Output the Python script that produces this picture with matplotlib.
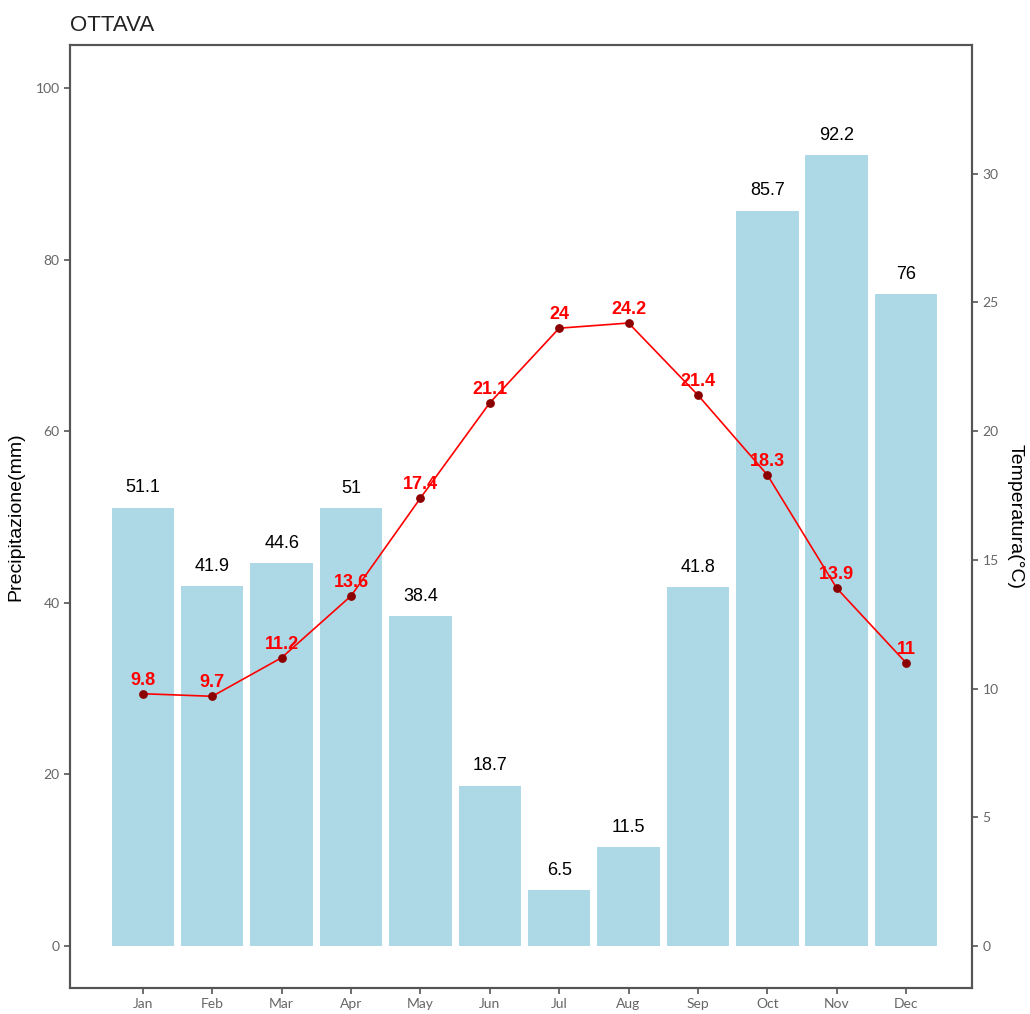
import matplotlib.pyplot as plt
import numpy as np

months = ["Jan", "Feb", "Mar", "Apr", "May", "Jun",
          "Jul", "Aug", "Sep", "Oct", "Nov", "Dec"]
precip = [51.1, 41.9, 44.6, 51, 38.4, 18.7, 6.5, 11.5, 41.8, 85.7, 92.2, 76]
temp = [9.8, 9.7, 11.2, 13.6, 17.4, 21.1, 24, 24.2, 21.4, 18.3, 13.9, 11]

fig = plt.figure(figsize=(10.3, 10.14), dpi=100)
ax = fig.add_axes([0.068, 0.0256, 0.8757, 0.93])

x = np.arange(len(months))
ax.bar(x, precip, width=0.9, color="#add8e6")
for xi, p in zip(x, precip):
    ax.text(xi, p + 1.3, f"{p:g}", ha="center", va="bottom",
            fontsize=13, family="Liberation Sans", color="black")

ax.set_ylim(-4.9, 105)
ax.set_xticks(x)
ax.set_xticklabels(months)
ax.set_yticks([0, 20, 40, 60, 80, 100])
ax.set_ylabel("Precipitazione(mm)", fontsize=14, family="Liberation Sans",
              labelpad=8)

ax2 = ax.twinx()
ax2.plot(x, temp, color="red", lw=1.2, zorder=3)
ax2.scatter(x, temp, color="#8b0000", s=28, zorder=4)
for xi, t in zip(x, temp):
    ax2.text(xi, t + 0.2, f"{t:g}", ha="center", va="bottom",
             fontsize=13, fontweight="bold", family="Liberation Sans",
             color="red", zorder=5)
ax2.set_ylim(-4.9 / 3, 105 / 3)
ax2.set_yticks([0, 5, 10, 15, 20, 25, 30])
ax2.set_ylabel("Temperatura(°C)", fontsize=14, family="Liberation Sans",
               rotation=270, labelpad=18)
ax.set_xlim(-1.05, 11.95)
ax2.set_xlim(-1.05, 11.95)

for a in (ax, ax2):
    for s in a.spines.values():
        s.set_color("#555555")
        s.set_linewidth(1.5)
    a.tick_params(colors="#555555", labelcolor="#666666", labelsize=10,
                  length=4, width=1.2)
    for lab in a.get_xticklabels() + a.get_yticklabels():
        lab.set_family("Lato")

ax.set_title("OTTAVA", loc="left", fontsize=16, family="Liberation Sans",
             color="#222222", pad=10)

fig.savefig("out.png", dpi=100)
